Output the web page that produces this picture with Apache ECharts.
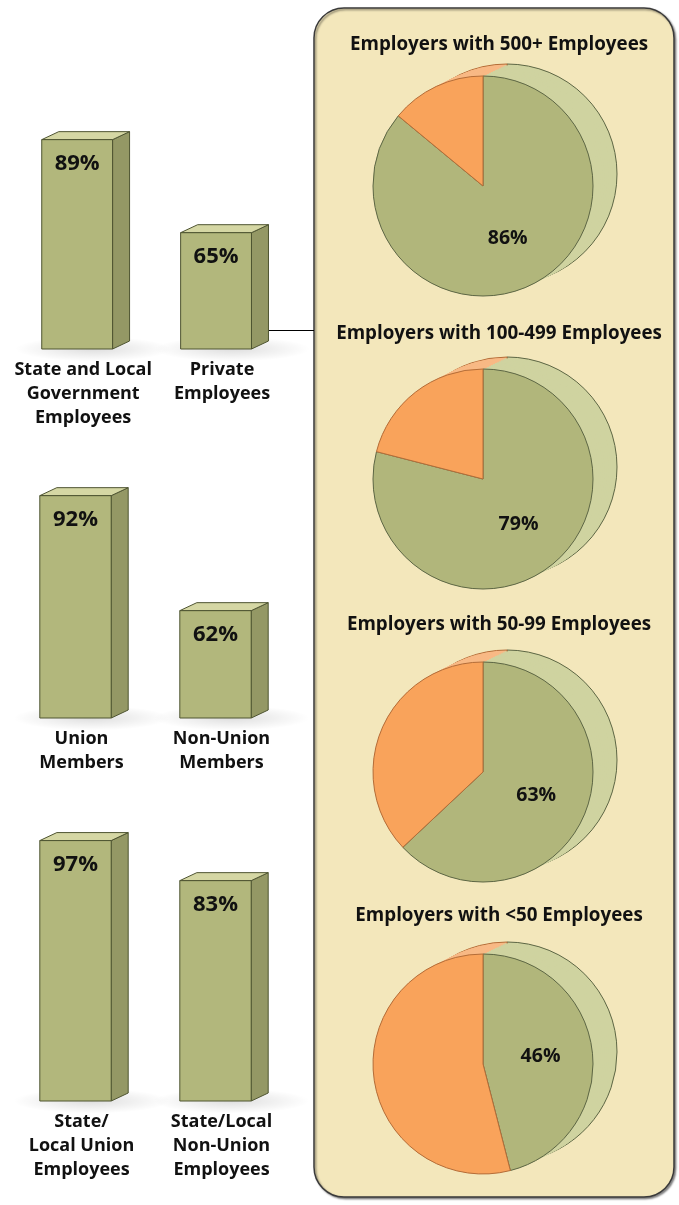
<!DOCTYPE html>
<html>
<head>
<meta charset="utf-8">
<script src="https://cdn.jsdelivr.net/npm/echarts@6/dist/echarts.min.js"></script>
<style>
  html, body { margin: 0; padding: 0; background: #ffffff; }
  #chart { width: 679px; height: 1205px; }
</style>
</head>
<body>
<div id="chart"></div>
<script>
// ---- Data ----
const rowCategories = [
  ['State and Local\nGovernment\nEmployees', 'Private\nEmployees'],
  ['Union\nMembers', 'Non-Union\nMembers'],
  ['State/\nLocal Union\nEmployees', 'State/Local\nNon-Union\nEmployees']
];
const rowValues = [
  [89, 65],
  [92, 62],
  [97, 83]
];
const pieTitles = [
  'Employers with 500+ Employees',
  'Employers with 100-499 Employees',
  'Employers with 50-99 Employees',
  'Employers with <50 Employees'
];
const pieYes = [86, 79, 63, 46];
const pieNo = [14, 21, 37, 54];

// ---- Layout & style ----
const FONT = '"Open Sans", "Noto Sans", sans-serif';
const rowGrids = [
  { top: 97, height: 252, min: 35 },
  { top: 465, height: 253, min: 34 },
  { top: 832, height: 269, min: 6 }
];
const BAR = { front: '#b2b77c', side: '#949865', top: '#d5d7a4', stroke: '#4e5431' };
const DEPTH = { dx: 17, dy: 8 };
const PIE = {
  cx: 483, r: 110, cys: [186, 479, 772, 1064],
  back: { dx: 24, dy: -12 },
  green: '#b1b67b', orange: '#f9a35b',
  greenBack: '#cfd3a0', orangeBack: '#f8b985',
  greenStroke: '#5d6644', orangeStroke: '#b46d38'
};

function renderBar3D(params, api) {
  const cs = params.coordSys;
  const bottom = cs.y + cs.height;
  const val = api.value(1);
  const p = api.coord([api.value(0), val]);
  const w = api.size([1, 0])[0] * 0.51;
  const x0 = p[0] - w / 2, x1 = p[0] + w / 2, ty = p[1];
  const dx = DEPTH.dx, dy = DEPTH.dy;
  return {
    type: 'group',
    children: [
      {
        // soft floor shadow under the bar
        type: 'circle',
        shape: { cx: p[0] + 16, cy: bottom, r: 78 },
        originX: p[0] + 16, originY: bottom, scaleY: 0.16,
        style: {
          fill: {
            type: 'radial', x: 0.5, y: 0.5, r: 0.5,
            colorStops: [
              { offset: 0, color: 'rgba(0,0,0,0.13)' },
              { offset: 0.6, color: 'rgba(0,0,0,0.05)' },
              { offset: 1, color: 'rgba(0,0,0,0)' }
            ]
          }
        }
      },
      {
        type: 'polygon',
        shape: { points: [[x1, ty], [x1 + dx, ty - dy], [x1 + dx, bottom - dy], [x1, bottom]] },
        style: { fill: BAR.side, stroke: BAR.stroke, lineWidth: 1 }
      },
      {
        type: 'polygon',
        shape: { points: [[x0, ty], [x0 + dx, ty - dy], [x1 + dx, ty - dy], [x1, ty]] },
        style: { fill: BAR.top, stroke: BAR.stroke, lineWidth: 1 }
      },
      {
        type: 'rect',
        shape: { x: x0, y: ty, width: w, height: bottom - ty },
        style: { fill: BAR.front, stroke: BAR.stroke, lineWidth: 1 }
      },
      {
        type: 'text',
        style: {
          x: p[0], y: ty + 24, text: val + '%',
          align: 'center', verticalAlign: 'middle',
          font: 'bold 22px ' + FONT, fill: '#111111'
        }
      }
    ]
  };
}

const grids = [], xAxes = [], yAxes = [], series = [];
rowGrids.forEach((g, i) => {
  grids.push({ left: 5.5, width: 280, top: g.top, height: g.height });
  xAxes.push({
    type: 'category', gridIndex: i, data: rowCategories[i],
    axisLine: { show: false }, axisTick: { show: false },
    axisLabel: {
      margin: 9, interval: 0, lineHeight: 24, padding: [0, 0, 0, 12],
      fontFamily: FONT, fontWeight: 'bold', fontSize: 18, color: '#111111'
    }
  });
  yAxes.push({ type: 'value', gridIndex: i, min: g.min, max: 100, show: false, splitLine: { show: false } });
  series.push({
    type: 'custom', xAxisIndex: i, yAxisIndex: i, silent: true, clip: false,
    renderItem: renderBar3D,
    data: rowValues[i].map((v, j) => [j, v])
  });
});

// Pies: back face, extruded body layers, front face
const LAYERS = 12;
const titles = [];
pieYes.forEach((yes, k) => {
  const cy = PIE.cys[k];
  const data = (cYes, cNo, sYes, sNo, lw, label) => [
    { value: yes, name: 'yes', itemStyle: { color: cYes, borderColor: sYes, borderWidth: lw },
      label: label },
    { value: pieNo[k], name: 'no', itemStyle: { color: cNo, borderColor: sNo, borderWidth: lw },
      label: { show: false } }
  ];
  const base = {
    type: 'pie', radius: PIE.r, startAngle: 90, clockwise: true, silent: true,
    avoidLabelOverlap: false, labelLine: { show: false }, emphasis: { disabled: true }
  };
  series.push(Object.assign({}, base, {
    center: [PIE.cx + PIE.back.dx, cy + PIE.back.dy],
    data: data(PIE.greenBack, PIE.orangeBack, PIE.greenStroke, PIE.orangeStroke, 1, { show: false })
  }));
  for (let l = 0; l < LAYERS; l++) {
    const t = 0.9 * (LAYERS - 1 - l) / (LAYERS - 1);
    series.push(Object.assign({}, base, {
      center: [PIE.cx + PIE.back.dx * t, cy + PIE.back.dy * t],
      data: data(PIE.greenBack, PIE.orangeBack, PIE.greenBack, PIE.orangeBack, 0, { show: false })
    }));
  }
  series.push(Object.assign({}, base, {
    center: [PIE.cx, cy],
    data: data(PIE.green, PIE.orange, PIE.greenStroke, PIE.orangeStroke, 1, {
      show: true, position: 'inside', formatter: '{c}%',
      fontFamily: FONT, fontWeight: 'bold', fontSize: 19.5, color: '#111111'
    })
  }));
  titles.push({
    text: pieTitles[k], left: 494, top: [30, 319, 610, 901][k], textAlign: 'center',
    textStyle: { fontFamily: FONT, fontWeight: 'bold', fontSize: 18.8, color: '#111111' }
  });
});

const chart = echarts.init(document.getElementById('chart'), null, { renderer: 'canvas' });
chart.setOption({
  animation: false,
  backgroundColor: '#ffffff',
  title: titles,
  grid: grids,
  xAxis: xAxes,
  yAxis: yAxes,
  graphic: [
    {
      type: 'rect', z: 0, silent: true,
      shape: { x: 314, y: 8, width: 360, height: 1189, r: 30 },
      style: {
        fill: '#f3e7bb', stroke: '#3a3a3a', lineWidth: 1.5,
        shadowColor: 'rgba(0,0,0,0.45)', shadowBlur: 2, shadowOffsetX: 1.5, shadowOffsetY: 1.5
      }
    },
    {
      type: 'line', z: 0, silent: true,
      shape: { x1: 268, y1: 330.5, x2: 314, y2: 330.5 },
      style: { stroke: '#000000', lineWidth: 1 }
    }
  ],
  series: series
});
</script>
</body>
</html>
